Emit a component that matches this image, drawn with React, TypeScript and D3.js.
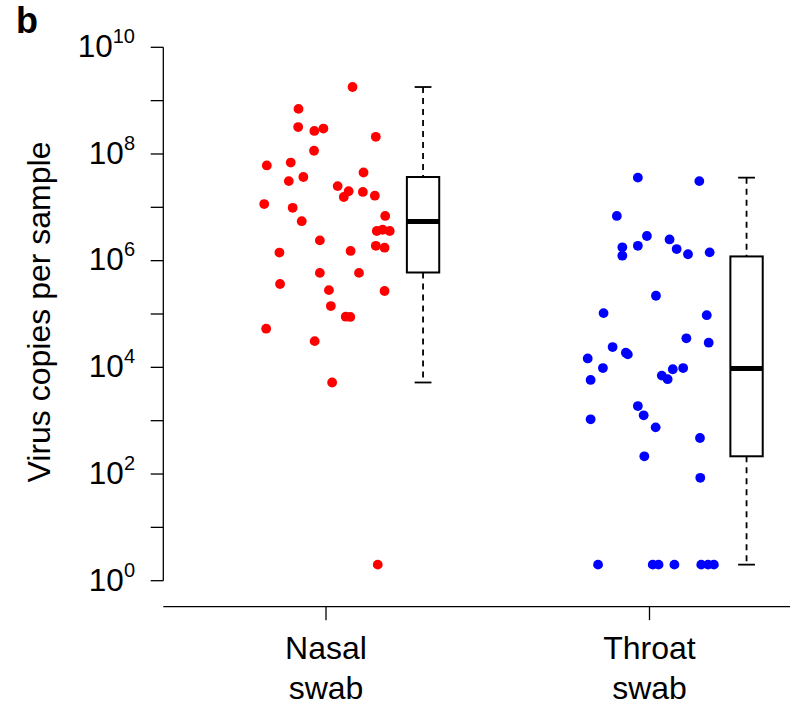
import React from 'react';
import * as d3 from 'd3';

// categories and their printed labels (two lines each)
const categories = ['Nasal swab', 'Throat swab'];
const categoryLines = [['Nasal', 'swab'], ['Throat', 'swab']];
const pointColors = ['#ff0000', '#0000ff'];

// virus copies per sample
const nasalCopies = [
  1.8e9, 7.0e8, 3.2e8, 2.7e8, 3.0e8, 2.1e8, 1.15e8, 6.1e7, 6.9e7, 4.5e7,
  3.1e7, 3.7e7, 2.5e7, 2.0e7, 1.56e7, 1.94e7, 1.65e7, 1.15e7, 9.8e6, 6.9e6,
  5.5e6, 3.6e6, 3.8e6, 3.6e6, 2.4e6, 1.42e6, 1.52e6, 1.9e6, 1.75e6, 5.9e5,
  5.9e5, 3.65e5, 2.8e5, 2.7e5, 1.41e5, 8.9e4, 8.8e4, 5.3e4, 3.1e4, 5.2e3, 2,
];
// horizontal jitter of each nasal point (in category units)
const nasalJitter = [
  0.082, -0.085, -0.086, -0.036, -0.008, 0.154, -0.037, -0.183, -0.109, 0.116,
  -0.115, -0.07, 0.036, 0.07, 0.055, 0.114, 0.151, -0.191, -0.103, 0.183,
  -0.075, 0.157, 0.175, 0.197, -0.019, -0.144, 0.076, 0.154, 0.181, -0.019,
  0.102, -0.142, 0.009, 0.181, 0.015, 0.061, 0.075, -0.185, -0.035, 0.019, 0.16,
];

const throatCopies = [
  3.6e7, 3.1e7, 6.9e6, 2.9e6, 1.78e6, 1.24e6, 1.9e6, 2.5e6, 1.65e6, 1.32e6,
  1.43e6, 2.2e5, 1.04e5, 9.5e4, 3.5e4, 2.9e4, 2.4e4, 1.88e4, 1.75e4, 1.47e4,
  9.7e3, 5.8e3, 7.0e3, 6.0e3, 9.2e3, 9.7e3, 1.88e3, 1.26e3, 1.06e3, 750,
  473, 215, 85, 2, 2, 2, 2, 2, 2, 2,
];
const throatJitter = [
  -0.036, 0.154, -0.101, -0.008, -0.084, -0.084, -0.036, 0.062, 0.084, 0.119,
  0.186, 0.02, -0.142, 0.177, 0.114, 0.183, -0.114, -0.073, -0.067, -0.191,
  -0.144, -0.182, 0.038, 0.056, 0.072, 0.104, -0.036, -0.018, -0.182, 0.019,
  0.156, -0.016, 0.157, -0.159, 0.01, 0.028, 0.077, 0.16, 0.181, 0.199,
];

// box-plot statistics per category
const whiskerLow = [5.2e3, 2];
const quartile1 = [6.0e5, 215];
const medians = [5.4e6, 9.5e3];
const quartile3 = [3.7e7, 1.2e6];
const whiskerHigh = [1.8e9, 3.6e7];

// y axis
const tickExponents = [0, 2, 4, 6, 8, 10];
const minorExponents = [1, 3, 5, 7, 9];

const W = 810;
const H = 705;
const FONT = '"Liberation Sans", Arial, Helvetica, sans-serif';

export default function App() {
  const y = d3.scaleLog().domain([1, 1e10]).range([580.7, 47.3]);
  const x = d3.scaleLinear().domain([1, 2]).range([326, 649.5]);
  const axisX = 163.3;
  const axisY = 606.7;
  const boxOffset = 0.3;
  const boxHalf = 0.05;
  const capHalf = 0.026;

  const groups = [
    {copies: nasalCopies, jitter: nasalJitter},
    {copies: throatCopies, jitter: throatJitter},
  ];

  return (
    <svg width={W} height={H} style={{position: 'absolute', left: 0, top: 0, background: '#fff'}}
      fontFamily={FONT}>
      {/* panel letter */}
      <text x={16} y={33} fontSize={36} fontWeight="bold">b</text>

      {/* y title */}
      <text transform="translate(50,312) rotate(-90)" fontSize={32}
        textAnchor="middle">Virus copies per sample</text>

      {/* y axis */}
      <line x1={axisX} x2={axisX} y1={y(1e10)} y2={y(1)} stroke="#000" strokeWidth={1.3} />
      {[...tickExponents, ...minorExponents].map(e => (
        <line key={'t' + e} x1={axisX - 12.6} x2={axisX} y1={y(Math.pow(10, e))} y2={y(Math.pow(10, e))}
          stroke="#000" strokeWidth={1.3} />
      ))}
      {tickExponents.map(e => (
        <text key={'l' + e} x={135} y={y(Math.pow(10, e)) + 9.8} textAnchor="end" fontSize={31.5}>
          10<tspan fontSize={20} dy={-14}>{e}</tspan>
        </text>
      ))}

      {/* x axis */}
      <line x1={axisX} x2={790} y1={axisY} y2={axisY} stroke="#000" strokeWidth={1.3} />
      {categories.map((c, i) => (
        <g key={c}>
          <line x1={x(i + 1)} x2={x(i + 1)} y1={axisY} y2={axisY + 13.5} stroke="#000" strokeWidth={1.3} />
          {categoryLines[i].map((t, k) => (
            <text key={k} x={x(i + 1)} y={659.3 + k * 39.7} textAnchor="middle" fontSize={32}>{t}</text>
          ))}
        </g>
      ))}

      {/* points */}
      {groups.map((g, i) => (
        <g key={'p' + i} fill={pointColors[i]}>
          {g.copies.map((v, k) => (
            <circle key={k} cx={x(i + 1 + g.jitter[k])} cy={y(v)} r={4.9} />
          ))}
        </g>
      ))}

      {/* box plots */}
      {categories.map((c, i) => {
        const cx = x(i + 1 + boxOffset);
        const bl = x(i + 1 + boxOffset - boxHalf);
        const br = x(i + 1 + boxOffset + boxHalf);
        const cl = x(i + 1 + boxOffset - capHalf);
        const cr = x(i + 1 + boxOffset + capHalf);
        return (
          <g key={'b' + c} stroke="#000">
            <line x1={cx} x2={cx} y1={y(whiskerHigh[i])} y2={y(quartile3[i])} strokeWidth={1.8}
              strokeDasharray="6,5" />
            <line x1={cx} x2={cx} y1={y(quartile1[i])} y2={y(whiskerLow[i])} strokeWidth={1.8}
              strokeDasharray="6,5" />
            <line x1={cl} x2={cr} y1={y(whiskerHigh[i])} y2={y(whiskerHigh[i])} strokeWidth={1.8} />
            <line x1={cl} x2={cr} y1={y(whiskerLow[i])} y2={y(whiskerLow[i])} strokeWidth={1.8} />
            <rect x={bl} width={br - bl} y={y(quartile3[i])} height={y(quartile1[i]) - y(quartile3[i])}
              fill="#fff" strokeWidth={2} />
            <line x1={bl} x2={br} y1={y(medians[i])} y2={y(medians[i])} strokeWidth={5} />
          </g>
        );
      })}
    </svg>
  );
}
